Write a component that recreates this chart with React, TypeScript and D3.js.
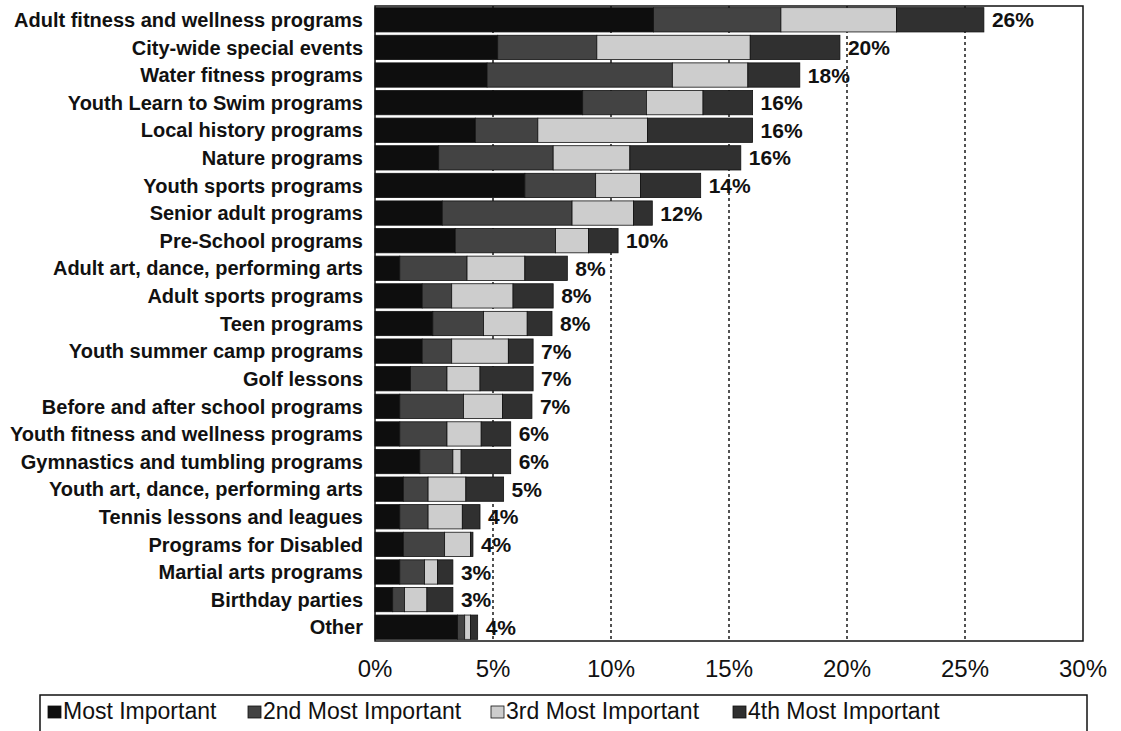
import { useEffect, useRef } from 'react'
import * as d3 from 'd3'

const W = 1121, H = 731
const M = { top: 6, right: 38, bottom: 90, left: 375 }

const categories = [
  'Adult fitness and wellness programs',
  'City-wide special events',
  'Water fitness programs',
  'Youth Learn to Swim programs',
  'Local history programs',
  'Nature programs',
  'Youth sports programs',
  'Senior adult programs',
  'Pre-School programs',
  'Adult art, dance, performing arts',
  'Adult sports programs',
  'Teen programs',
  'Youth summer camp programs',
  'Golf lessons',
  'Before and after school programs',
  'Youth fitness and wellness programs',
  'Gymnastics and tumbling programs',
  'Youth art, dance, performing arts',
  'Tennis lessons and leagues',
  'Programs for Disabled',
  'Martial arts programs',
  'Birthday parties',
  'Other',
]

const mostImportant = [11.8, 5.2, 4.75, 8.8, 4.25, 2.7, 6.35, 2.85, 3.4, 1.05, 2.0, 2.45, 2.0, 1.5, 1.05, 1.05, 1.9, 1.2, 1.05, 1.2, 1.05, 0.75, 3.5]
const second = [5.4, 4.2, 7.85, 2.7, 2.65, 4.85, 3.0, 5.5, 4.25, 2.85, 1.25, 2.15, 1.25, 1.55, 2.7, 2.0, 1.4, 1.05, 1.2, 1.75, 1.05, 0.5, 0.3]
const third = [4.9, 6.5, 3.2, 2.4, 4.65, 3.25, 1.9, 2.6, 1.4, 2.45, 2.6, 1.85, 2.4, 1.4, 1.65, 1.45, 0.35, 1.6, 1.45, 1.1, 0.55, 0.95, 0.25]
const fourth = [3.7, 3.8, 2.2, 2.1, 4.45, 4.7, 2.55, 0.8, 1.25, 1.8, 1.7, 1.05, 1.05, 2.25, 1.25, 1.25, 2.1, 1.6, 0.75, 0.1, 0.65, 1.1, 0.3]
const totalLabels = ['26%', '20%', '18%', '16%', '16%', '16%', '14%', '12%', '10%', '8%', '8%', '8%', '7%', '7%', '7%', '6%', '6%', '5%', '4%', '4%', '3%', '3%', '4%']

const seriesNames = ['Most Important', '2nd Most Important', '3rd Most Important', '4th Most Important']
const seriesColors = ['#0e0e0e', '#434343', '#cdcdcd', '#303030']
const xTicks = [0, 5, 10, 15, 20, 25, 30]

const FONT = 'Liberation Sans, Arial, sans-serif'

export default function App() {
  const svgRef = useRef<SVGSVGElement>(null)

  useEffect(() => {
    const svg = d3.select(svgRef.current!)
    svg.selectAll('*').remove()

    const iw = W - M.left - M.right
    const ih = H - M.top - M.bottom

    const x = d3.scaleLinear().domain([0, 30]).range([0, iw])
    const y = d3.scaleBand().domain(categories).range([0, ih]).paddingInner(0.12).paddingOuter(0.06)

    const rows = categories.map((c, i) => ({
      cat: c, s0: mostImportant[i], s1: second[i], s2: third[i], s3: fourth[i],
    }))
    const stack = d3.stack<any>().keys(['s0', 's1', 's2', 's3'])(rows)

    svg.append('rect').attr('width', W).attr('height', H).attr('fill', '#ffffff')

    const g = svg.append('g').attr('transform', `translate(${M.left},${M.top})`)

    // dashed gridlines
    xTicks.filter(t => t > 0 && t < 30).forEach(t => {
      g.append('line')
        .attr('x1', x(t)).attr('x2', x(t)).attr('y1', 0).attr('y2', ih)
        .attr('stroke', '#1a1a1a').attr('stroke-width', 1.5)
        .attr('stroke-dasharray', '3 3')
    })

    // stacked bars
    stack.forEach((layer, k) => {
      g.append('g').selectAll('rect').data(layer).join('rect')
        .attr('x', d => x(d[0]))
        .attr('y', (_, i) => y(categories[i])!)
        .attr('width', d => Math.max(0, x(d[1]) - x(d[0])))
        .attr('height', y.bandwidth())
        .attr('fill', seriesColors[k])
        .attr('stroke', '#111').attr('stroke-width', 0.8)
    })

    // total labels
    g.append('g').selectAll('text').data(rows).join('text')
      .attr('x', (d) => x(d.s0 + d.s1 + d.s2 + d.s3) + 8)
      .attr('y', d => y(d.cat)! + y.bandwidth() / 2)
      .attr('dy', '0.36em')
      .attr('font-family', FONT)
      .attr('font-weight', 'bold').attr('font-size', 21).attr('fill', '#111')
      .text((_, i) => totalLabels[i])

    // category labels
    g.append('g').selectAll('text').data(categories).join('text')
      .attr('x', -12)
      .attr('y', d => y(d)! + y.bandwidth() / 2)
      .attr('dy', '0.36em')
      .attr('text-anchor', 'end')
      .attr('font-family', FONT)
      .attr('font-weight', 'bold').attr('font-size', 20).attr('fill', '#111')
      .text(d => d)

    // plot frame
    g.append('rect').attr('x', 0).attr('y', 0).attr('width', iw).attr('height', ih)
      .attr('fill', 'none').attr('stroke', '#111').attr('stroke-width', 1.5)

    // x axis tick labels
    g.append('g').selectAll('text').data(xTicks).join('text')
      .attr('x', d => x(d))
      .attr('y', ih + 36)
      .attr('text-anchor', 'middle')
      .attr('font-family', FONT)
      .attr('font-size', 24).attr('fill', '#111')
      .text(d => `${d}%`)

    // legend
    const lg = svg.append('g').attr('transform', `translate(40,695)`)
    lg.append('rect').attr('x', 0).attr('y', 0).attr('width', 1047).attr('height', 60)
      .attr('fill', '#fff').attr('stroke', '#111').attr('stroke-width', 1.5)
    const legendX = [8, 208, 451, 693]
    seriesNames.forEach((name, i) => {
      lg.append('rect').attr('x', legendX[i]).attr('y', 11).attr('width', 13).attr('height', 12)
        .attr('fill', seriesColors[i]).attr('stroke', '#111').attr('stroke-width', 0.8)
      lg.append('text').attr('x', legendX[i] + 15).attr('y', 24)
        .attr('font-family', FONT)
        .attr('font-size', 23).attr('fill', '#111')
        .text(name)
    })
  }, [])

  return (
    <svg ref={svgRef} width={W} height={H} viewBox={`0 0 ${W} ${H}`}
      style={{ position: 'absolute', left: 0, top: 0, display: 'block' }} />
  )
}
